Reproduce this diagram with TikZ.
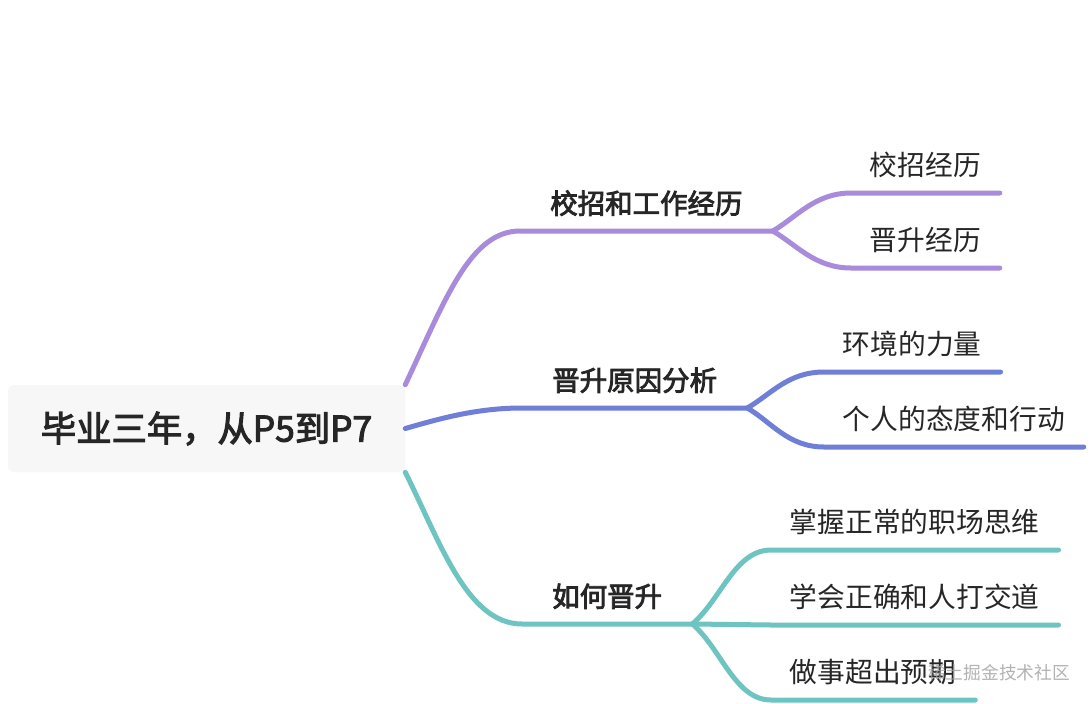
\documentclass[tikz,border=0pt]{standalone}
\usepackage{fontspec}
\newfontfamily\cjkfont{Noto Sans CJK SC}
\newfontfamily\cjkmedium[FakeBold=3]{Noto Sans CJK SC}
\usepackage{xcolor}
\usepackage{tikz}
\usetikzlibrary{positioning, calc}

\definecolor{mapPurple}{HTML}{A98BDC}
\definecolor{mapBlue}{HTML}{6F7FD8}
\definecolor{mapTeal}{HTML}{6EC4C1}
\definecolor{rootGray}{HTML}{F7F7F7}
\definecolor{inkDark}{HTML}{262626}

\begin{document}
\begin{tikzpicture}[
        x=0.75pt, y=-0.75pt, % one unit = one pixel of the reference, y downwards
        font=\cjkfont,
        rootbox/.style={fill=rootGray, rounded corners=4pt, minimum width=297.75pt, minimum height=65.25pt,
            text=inkDark, font=\cjkmedium\fontsize{26.5}{30}\selectfont},
        topic/.style={anchor=south west, inner xsep=22.5pt, inner ysep=8.7pt, text height=16.4pt, text depth=4.1pt,
            text=inkDark, font=\cjkmedium\fontsize{20.6}{24}\selectfont},
        leaf/.style={topic, inner xsep=14pt, font=\cjkfont\fontsize{20.8}{24}\selectfont},
        branch/.style={line width=3.75pt, line cap=round},
        wmark/.style={text=gray!75, opacity=0.8, font=\cjkfont\fontsize{13.3}{16}\selectfont},
    ]

    % --- INTERNAL FIGURE PARAMETERS ---
    \pgfmathsetmacro{\figwidth}{1090}
    \pgfmathsetmacro{\figheight}{704}

    % Background
    \fill[white] (0,0) rectangle (\figwidth,\figheight);
    \useasboundingbox (0,0) rectangle (\figwidth,\figheight);

    % Central topic
    \node[rootbox] (root) at (206.5,428.5) {毕业三年，从P5到P7};

    % Main topics
    \node[topic] (career) at (520,231) {校招和工作经历};
    \node[topic] (reason) at (522,408) {晋升原因分析};
    \node[topic] (howto)  at (522,624) {如何晋升};

    % Sub topics
    \node[leaf] (campus)   at (851,193) {校招经历};
    \node[leaf] (promo)    at (851,268) {晋升经历};
    \node[leaf] (environ)  at (824,372) {环境的力量};
    \node[leaf] (attitude) at (824,447) {个人的态度和行动};
    \node[leaf] (mindset)  at (771,550) {掌握正常的职场思维};
    \node[leaf] (people)   at (771,625) {学会正确和人打交道};
    \node[leaf] (beyond)   at (771,700) {做事超出预期};

    % Branch: career (purple)
    \draw[branch, mapPurple] (root.north east) .. controls +(40,-85) and +(-50,0) .. (career.south west) -- (career.south east);
    \draw[branch, mapPurple] (career.south east) .. controls +(24,-14) and +(-36,0) .. (campus.south west) -- (campus.south east);
    \draw[branch, mapPurple] (career.south east) .. controls +(24,14) and +(-36,0) .. (promo.south west) -- (promo.south east);

    % Branch: reason (blue)
    \draw[branch, mapBlue] (root.east) .. controls +(35,-10) and +(-45,0) .. (reason.south west) -- (reason.south east);
    \draw[branch, mapBlue] (reason.south east) .. controls +(24,-14) and +(-36,0) .. (environ.south west) -- (environ.south east);
    \draw[branch, mapBlue] (reason.south east) .. controls +(24,14) and +(-36,0) .. (attitude.south west) -- (attitude.south east);

    % Branch: howto (teal)
    \draw[branch, mapTeal] (root.south east) .. controls +(35,70) and +(-55,0) .. (howto.south west) -- (howto.south east);
    \draw[branch, mapTeal] (howto.south east) .. controls +(29,-25) and +(-36,0) .. (mindset.south west) -- (mindset.south east);
    \draw[branch, mapTeal] (howto.south east) -- (people.south west) -- (people.south east);
    \draw[branch, mapTeal] (howto.south east) .. controls +(29,25) and +(-36,0) .. (beyond.south west) -- (beyond.south east);

    % Watermark
    \node[wmark] (wm) at (999,673) {稀土掘金技术社区};

\end{tikzpicture}
\end{document}
